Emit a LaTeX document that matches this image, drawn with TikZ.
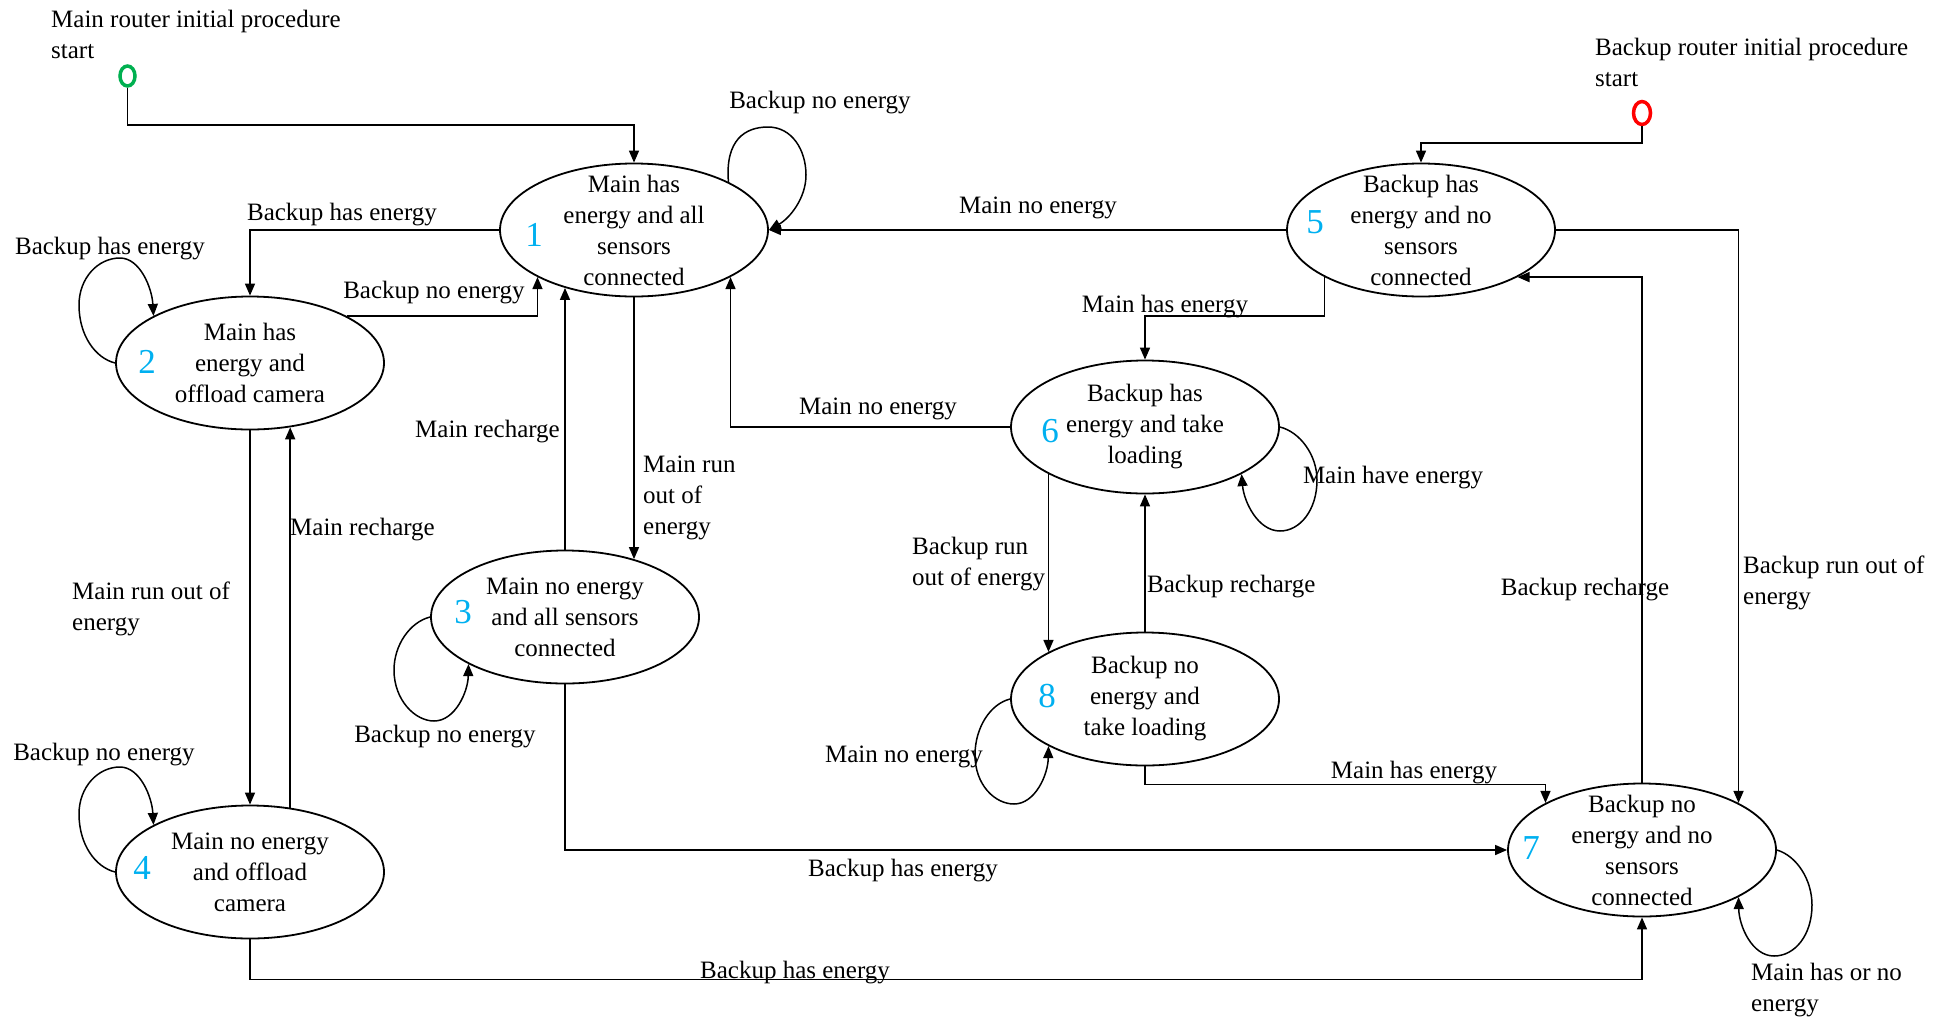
\documentclass[tikz,border=0pt]{standalone}
\usepackage{fontspec}
\setmainfont{Liberation Serif}
\usetikzlibrary{arrows.meta,shapes.geometric}

\definecolor{numblue}{HTML}{00B0F0}
\definecolor{startgreen}{HTML}{00B050}
\definecolor{startred}{HTML}{FF0000}

\begin{document}
\begin{tikzpicture}[x=1pt,y=-1pt,
  state/.style={ellipse, draw, line width=1.8pt, minimum width=268pt, minimum height=133pt, inner sep=0pt},
  stext/.style={align=center, font=\fontsize{25}{31}\selectfont, inner sep=0pt},
  num/.style={text=numblue, font=\fontsize{35}{40}\selectfont, inner sep=0pt},
  lbl/.style={font=\fontsize{25}{31}\selectfont, inner sep=0pt, yshift=-3pt},
  lblw/.style={lbl, anchor=west, align=left},
  arr/.style={line width=1.5pt, -{Triangle[length=12pt,width=10pt]}},
  startmark/.style={ellipse, draw, line width=3.5pt, minimum width=15pt, minimum height=20pt, inner sep=0pt},
]
\useasboundingbox (0,0) rectangle (1952,1018);

% ---- states ----
\node[state] (n1) at (634,230) {};
\node[stext] (t1) at (n1) {Main has\\energy and all\\sensors\\connected};
\node[num] (d1) at (534,235) {1};

\node[state] (n2) at (250,363) {};
\node[stext] (t2) at (n2) {Main has\\energy and\\offload camera};
\node[num] (d2) at (147,362) {2};

\node[state] (n3) at (565,617) {};
\node[stext] (t3) at (n3) {Main no energy\\and all sensors\\connected};
\node[num] (d3) at (463,612) {3};

\node[state] (n4) at (250,872) {};
\node[stext] (t4) at (n4) {Main no energy\\and offload\\camera};
\node[num] (d4) at (142,868) {4};

\node[state] (n5) at (1421,230) {};
\node[stext] (t5) at (n5) {Backup has\\energy and no\\sensors\\connected};
\node[num] (d5) at (1315,222) {5};

\node[state] (n6) at (1145,427) {};
\node[stext] (t6) at (n6) {Backup has\\energy and take\\loading};
\node[num] (d6) at (1050,431) {6};

\node[state] (n8) at (1145,699) {};
\node[stext] (t8) at (n8) {Backup no\\energy and\\take loading};
\node[num] (d8) at (1047,696) {8};

\node[state] (n7) at (1642,850) {};
\node[stext] (t7) at (n7) {Backup no\\energy and no\\sensors\\connected};
\node[num] (d7) at (1531,848) {7};

% ---- start markers ----
\node[startmark, draw=startgreen] (g0) at (127.5,76) {};
\node[startmark, draw=startred, minimum width=17pt, minimum height=23pt] (r0) at (1642,113) {};
\node[lblw] (lg) at (51,31.5) {Main router initial procedure\\start};
\node[lblw] (lr) at (1595,59.5) {Backup router initial procedure\\start};

% ---- transitions ----
\draw[arr] (g0.south) -- (g0.south |- 0,125) -| (n1.north);
\draw[arr] (r0.south) -- (r0.south |- 0,143) -| (n5.north);

\draw[arr] (n5.west) -- (n1.east);
\draw[arr] (n5.206) -- ++(0,39) -| (n6.north);
\draw[arr] (n5.east) -| (n7.26);
\draw[arr] (n7.north) |- (n5.334);

\draw[arr] (n1.west) -| (n2.north);
\draw[arr] (n2.26) -| (n1.206);
\draw[arr] (n2.south) -- (n4.north);
\draw[arr] (n4.58) -- (n2.302);

\draw[arr] (n1.south) -- (n1.south |- n3.40);
\draw[arr] (n3.north) -- (n3.north |- n1.220);
\draw[arr] (n3.south) |- (n7.west);
\draw[arr] (n4.south) -- ++(0,40) -| (n7.south);

\draw[arr] (n6.west) -| (n1.334);
\draw[arr] (n6.206) -- (n8.154);
\draw[arr] (n8.north) -- (n6.south);
\draw[arr] (n8.south) -- ++(0,18) -| (n7.154);

% ---- self loops ----
\draw[arr] (n1.27) .. controls (725,140) and (745,127) .. (768,127)
  .. controls (792,127) and (806,150) .. (806,175)
  .. controls (806,198) and (790,218) .. (n1.east);
\draw[arr] (n2.west) .. controls (95,358) and (79,335) .. (79,305)
  .. controls (79,278) and (98,258) .. (120,258)
  .. controls (140,258) and (152,288) .. (n2.154);
\draw[arr] (n4.west) .. controls (95,867) and (79,844) .. (79,814)
  .. controls (79,787) and (98,767) .. (120,767)
  .. controls (140,767) and (152,797) .. (n4.154);
\draw[arr] (n3.west) .. controls (410,622) and (394,645) .. (394,670)
  .. controls (394,700) and (415,721) .. (434,721)
  .. controls (455,721) and (468,692) .. (n3.206);
\draw[arr] (n6.east) .. controls (1300,432) and (1317,455) .. (1317,480)
  .. controls (1317,510) and (1300,531) .. (1280,531)
  .. controls (1258,531) and (1244,502) .. (n6.334);
\draw[arr] (n8.west) .. controls (990,704) and (975,728) .. (975,755)
  .. controls (975,785) and (995,804) .. (1014,804)
  .. controls (1035,804) and (1048,775) .. (n8.206);
\draw[arr] (n7.east) .. controls (1797,856) and (1812,880) .. (1812,905)
  .. controls (1812,935) and (1795,956) .. (1774,956)
  .. controls (1752,956) and (1739,926) .. (n7.334);

% ---- transition labels ----
\node[lbl] (a1) at (820,100) {Backup no energy};
\node[lbl] (a2) at (1038,205) {Main no energy};
\node[lbl] (a3) at (1165,304) {Main has energy};
\node[lblw] (a4) at (1743,580) {Backup run out of\\energy};
\node[lbl] (a5) at (1585,587) {Backup recharge};
\node[lbl] (a6) at (342,212) {Backup has energy};
\node[lbl] (a7) at (434,290) {Backup no energy};
\node[lbl] (a8) at (110,246) {Backup has energy};
\node[lblw] (a9) at (72,605.5) {Main run out of\\energy};
\node[lblw] (a10) at (290,527) {Main recharge};
\node[lbl] (a11) at (104,752) {Backup no energy};
\node[lblw] (a12) at (643,495) {Main run\\out of\\energy};
\node[lbl, anchor=east] (a13) at (560,429) {Main recharge};
\node[lbl] (a14) at (445,734) {Backup no energy};
\node[lbl] (a15) at (903,868) {Backup has energy};
\node[lbl] (a16) at (795,970) {Backup has energy};
\node[lbl] (a17) at (878,406) {Main no energy};
\node[lblw] (a18) at (912,561.5) {Backup run\\out of energy};
\node[lblw] (a19) at (1147,584) {Backup recharge};
\node[lbl] (a20) at (1393,475) {Main have energy};
\node[lbl] (a21) at (904,754) {Main no energy};
\node[lbl] (a22) at (1414,770) {Main has energy};
\node[lblw] (a23) at (1751,987) {Main has or no\\energy};
\end{tikzpicture}
\end{document}
